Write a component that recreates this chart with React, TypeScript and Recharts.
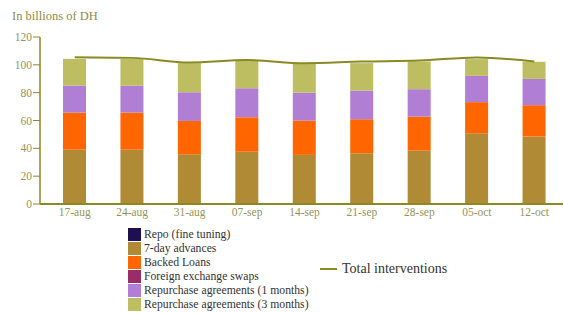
import React from 'react'
import { ComposedChart, Bar, Line, XAxis, YAxis } from 'recharts'

const weeks = ['17-aug', '24-aug', '31-aug', '07-sep', '14-sep', '21-sep', '28-sep', '05-oct', '12-oct']
const repoFine = [0, 0, 0, 0, 0, 0, 0, 0, 0]
const advances7d = [39, 39, 35.7, 37.6, 35.3, 36.5, 38.4, 50.8, 48.4]
const backedLoans = [26.7, 26.7, 24, 24.8, 24.6, 24.4, 24.4, 22.4, 22.6]
const fxSwaps = [0, 0, 0, 0, 0, 0, 0, 0, 0]
const repo1m = [19.4, 19.3, 20.6, 20.8, 20.1, 20.6, 19.7, 18.9, 18.9]
const repo3m = [19.2, 19.3, 20.9, 19.7, 20.7, 19.7, 19.9, 12, 12.3]
const totalInterventions = [105.5, 105, 101.7, 103.4, 101.2, 102.4, 103.1, 105.3, 102.4]
const yTicks = [0, 20, 40, 60, 80, 100, 120]

const OLIVE = '#8a8a22'
const LABEL = '#95955a'
const FONT = '"Liberation Serif", Tinos, "Times New Roman", "DejaVu Serif", serif'

const series = [
  { key: 'repoFine', name: 'Repo (fine tuning)', color: '#1e1050' },
  { key: 'advances7d', name: '7-day advances', color: '#b08a35' },
  { key: 'backedLoans', name: 'Backed Loans', color: '#ff6600' },
  { key: 'fxSwaps', name: 'Foreign exchange swaps', color: '#9b2c6a' },
  { key: 'repo1m', name: 'Repurchase agreements (1 months)', color: '#b07ed2' },
  { key: 'repo3m', name: 'Repurchase agreements (3 months)', color: '#bdbd62' },
]

const data = weeks.map((w, i) => ({
  week: w,
  repoFine: repoFine[i],
  advances7d: advances7d[i],
  backedLoans: backedLoans[i],
  fxSwaps: fxSwaps[i],
  repo1m: repo1m[i],
  repo3m: repo3m[i],
  total: totalInterventions[i],
}))

export default function App() {
  return (
    <div style={{ position: 'absolute', left: 0, top: 0, width: 564, height: 313, background: '#fff', fontFamily: FONT }}>
      <div style={{ position: 'absolute', left: 12, top: 9, fontSize: 12.5, color: '#8c8c45', fontFamily: FONT }}>In billions of DH</div>
      <ComposedChart width={564} height={225} data={data} margin={{ top: 37, right: 1, left: 0, bottom: 0 }} style={{ fontFamily: FONT }}>
        <XAxis
          dataKey="week"
          padding={{ left: 6, right: 0 }}
          tickLine={false}
          tickSize={0}
          tickMargin={4}
          height={21}
          axisLine={{ stroke: OLIVE, strokeWidth: 2 }}
          tick={{ fill: LABEL, fontSize: 11.5, fontFamily: FONT }}
        />
        <YAxis
          domain={[0, 120]}
          ticks={yTicks}
          width={40}
          tickSize={7}
          tickMargin={1}
          axisLine={{ stroke: OLIVE, strokeWidth: 1.5 }}
          tickLine={{ stroke: OLIVE }}
          tick={{ fill: LABEL, fontSize: 11.5, fontFamily: FONT }}
        />
        {series.map(s => (
          <Bar key={s.key} dataKey={s.key} stackId="a" fill={s.color} barSize={23} isAnimationActive={false} />
        ))}
        <Line
          type="monotone"
          dataKey="total"
          stroke={OLIVE}
          strokeWidth={2}
          dot={false}
          isAnimationActive={false}
        />
      </ComposedChart>
      <div style={{ position: 'absolute', left: 128, top: 227, fontFamily: FONT }}>
        {series.map(s => (
          <div key={s.key} style={{ display: 'flex', alignItems: 'center', height: 14, fontSize: 11.7, color: '#333' }}>
            <span style={{ display: 'inline-block', width: 13, height: 13, background: s.color, marginRight: 3 }} />
            <span>{s.name}</span>
          </div>
        ))}
      </div>
      <div style={{ position: 'absolute', left: 320, top: 261, display: 'flex', alignItems: 'center', fontSize: 14, color: '#333', fontFamily: FONT }}>
        <span style={{ display: 'inline-block', width: 17, height: 2, background: OLIVE, marginRight: 5 }} />
        <span>Total interventions</span>
      </div>
    </div>
  )
}
